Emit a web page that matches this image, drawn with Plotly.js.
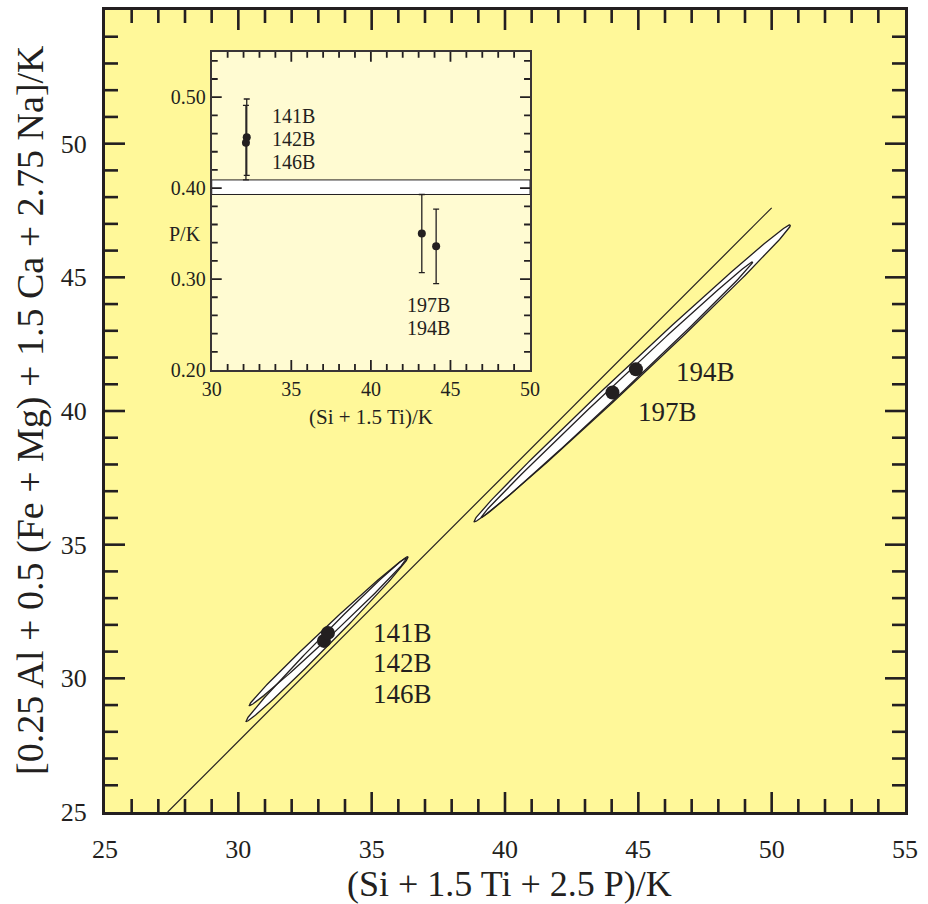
<!DOCTYPE html>
<html>
<head>
<meta charset="utf-8">
<script src="https://cdn.plot.ly/plotly-3.0.1.min.js"></script>
<style>body{margin:0;padding:0;background:#fff;} #plot{width:928px;height:904px;}</style>
</head>
<body>
<div id="plot"></div>
<script>
// ---- main panel data ----
const mainX = [33.21, 33.36, 44.03, 44.91];
const mainY = [31.40, 31.70, 40.69, 41.56];

// reference line
const refLineX = [27.35, 50.0];
const refLineY = [25.0, 47.6];

// confidence ellipses (centre, semi-axes, orientation in degrees)
const ellipseCx    = [44.77, 44.20, 33.33, 33.36];
const ellipseCy    = [41.41, 40.80, 31.47, 31.74];
const ellipseA     = [8.12, 6.98, 4.33, 4.04];
const ellipseB     = [0.30, 0.20, 0.20, 0.18];
const ellipseAngle = [43.1, 43.2, 45.4, 43.1];

// ---- inset data ----
const insetX   = [32.15, 32.20, 43.20, 44.10];
const insetY   = [0.450, 0.456, 0.350, 0.336];
const insetErr = [0.041, 0.042, 0.043, 0.041];
const bandLow = 0.393, bandHigh = 0.409;

const mainRange = [25, 55];
const insetXRange = [30, 50];
const insetYRange = [0.2, 0.55];

const INK = '#231F20';
const FONT = 'Liberation Serif, Times New Roman, serif';

// plot-area sizes in pixels (used to turn tick lengths into axis units)
const MAIN_W = 800, MAIN_H = 802, INSET_W = 318.3, INSET_H = 318.4;

function ellipsePts(i) {
  const xs = [], ys = [];
  const th = ellipseAngle[i] * Math.PI / 180;
  const n = 240;
  for (let k = 0; k <= n; k++) {
    const t = 2 * Math.PI * k / n;
    const u = ellipseA[i] * Math.cos(t), v = ellipseB[i] * Math.sin(t);
    xs.push(ellipseCx[i] + u * Math.cos(th) - v * Math.sin(th));
    ys.push(ellipseCy[i] + u * Math.sin(th) + v * Math.cos(th));
  }
  return {xs, ys};
}

const traces = [];
for (let i = 0; i < ellipseCx.length; i++) {
  const p = ellipsePts(i);
  traces.push({x: p.xs, y: p.ys, mode: 'lines', fill: 'toself', fillcolor: '#ffffff',
    line: {width: 0, color: 'rgba(0,0,0,0)'}, hoverinfo: 'skip', showlegend: false, xaxis: 'x', yaxis: 'y'});
}
for (let i = 0; i < ellipseCx.length; i++) {
  const p = ellipsePts(i);
  traces.push({x: p.xs, y: p.ys, mode: 'lines', line: {width: 1.3, color: INK},
    hoverinfo: 'skip', showlegend: false, xaxis: 'x', yaxis: 'y'});
}
traces.push({x: refLineX, y: refLineY, mode: 'lines', line: {width: 1.2, color: INK},
  showlegend: false, xaxis: 'x', yaxis: 'y'});
traces.push({x: mainX, y: mainY, mode: 'markers', marker: {size: 14, color: INK},
  showlegend: false, xaxis: 'x', yaxis: 'y'});
traces.push({x: insetX, y: insetY, mode: 'markers', marker: {size: 8, color: INK},
  error_y: {type: 'data', array: insetErr, visible: true, color: INK, thickness: 1.3, width: 3},
  showlegend: false, xaxis: 'x2', yaxis: 'y2'});

// ---- inside, mirrored tick marks drawn as line traces on each axis pair ----
function tickTrace(xr, yr, xTicks, yTicks, isMajorX, isMajorY, majPx, minPx, w, W, H, xa, ya) {
  const ux = (xr[1] - xr[0]) / W, uy = (yr[1] - yr[0]) / H;
  const xs = [], ys = [];
  xTicks.forEach(function(v, i) {
    const L = (isMajorX(i) ? majPx : minPx) * uy;
    xs.push(v, v, null, v, v, null);
    ys.push(yr[0], yr[0] + L, null, yr[1], yr[1] - L, null);
  });
  yTicks.forEach(function(v, i) {
    const L = (isMajorY(i) ? majPx : minPx) * ux;
    ys.push(v, v, null, v, v, null);
    xs.push(xr[0], xr[0] + L, null, xr[1], xr[1] - L, null);
  });
  return {x: xs, y: ys, mode: 'lines', line: {color: INK, width: w}, hoverinfo: 'skip',
          showlegend: false, cliponaxis: false, connectgaps: false, xaxis: xa, yaxis: ya};
}
const mainTickVals = [];
for (let v = mainRange[0] + 1; v < mainRange[1]; v++) mainTickVals.push(v);
traces.push(tickTrace(mainRange, mainRange, mainTickVals, mainTickVals,
  i => mainTickVals[i] % 5 === 0, i => mainTickVals[i] % 5 === 0, 20, 13, 2.6, MAIN_W, MAIN_H, 'x', 'y'));
const insetXTickVals = [];
for (let v = insetXRange[0] + 1; v < insetXRange[1]; v++) insetXTickVals.push(v);
const insetYTickVals = [];
for (let k = 1; k <= 17; k++) insetYTickVals.push(Math.round((insetYRange[0] + 0.02 * k) * 1000) / 1000);
traces.push(tickTrace(insetXRange, insetYRange, insetXTickVals, insetYTickVals,
  i => insetXTickVals[i] % 5 === 0, i => (i + 1) % 5 === 0, 10, 6, 1.8, INSET_W, INSET_H, 'x2', 'y2'));

const axisCommon = {
  showgrid: false, zeroline: false, showline: true, linecolor: INK, linewidth: 3,
  mirror: true, ticks: '', tickmode: 'linear', tick0: 25, dtick: 5,
  tickfont: {family: FONT, size: 26, color: INK}
};

const insetCommon = {
  showgrid: false, zeroline: false, showline: true, linecolor: '#3a3536', linewidth: 2,
  mirror: true, ticks: '',
  tickfont: {family: FONT, size: 20, color: INK}
};

const layout = {
  width: 928, height: 904,
  margin: {l: 105, r: 23, t: 10, b: 92},
  paper_bgcolor: '#ffffff', plot_bgcolor: '#FFF899',
  showlegend: false,
  xaxis: Object.assign({}, axisCommon, {range: mainRange, ticklabelstandoff: 12}),
  yaxis: Object.assign({}, axisCommon, {range: mainRange, ticklabelstandoff: 10}),
  xaxis2: Object.assign({}, insetCommon, {
    domain: [0.1334, 0.5313], anchor: 'y2', range: insetXRange,
    tickmode: 'linear', tick0: 30, dtick: 5
  }),
  yaxis2: Object.assign({}, insetCommon, {
    domain: [0.5511, 0.948], anchor: 'x2', range: insetYRange,
    tickmode: 'linear', tick0: 0.2, dtick: 0.1, tickformat: '.2f'
  }),
  shapes: [
    {type: 'rect', xref: 'x2', yref: 'y2', x0: insetXRange[0], x1: insetXRange[1], y0: insetYRange[0], y1: insetYRange[1],
     fillcolor: '#FFFBD2', line: {width: 0}, layer: 'below'},
    {type: 'rect', xref: 'x2', yref: 'y2', x0: insetXRange[0], x1: insetXRange[1], y0: bandLow, y1: bandHigh,
     fillcolor: '#ffffff', line: {width: 1, color: INK}, layer: 'below'}
  ],
  annotations: [
    {xref: 'paper', yref: 'paper', x: 0.506, y: -0.0898, xanchor: 'center', yanchor: 'middle',
     text: '(Si + 1.5 Ti + 2.5 P)/K', showarrow: false, font: {family: FONT, size: 36, color: INK}},
    {xref: 'paper', yref: 'paper', x: -0.094, y: 0.501, xanchor: 'center', yanchor: 'middle', textangle: -90,
     text: '[0.25 Al + 0.5 (Fe + Mg) + 1.5 Ca + 2.75 Na]/K', showarrow: false,
     font: {family: FONT, size: 38, color: INK}},
    {xref: 'paper', yref: 'paper', x: 0.3325, y: 0.4925, xanchor: 'center', yanchor: 'middle',
     text: '(Si + 1.5 Ti)/K', showarrow: false, font: {family: FONT, size: 21, color: INK}},
    {xref: 'paper', yref: 'y2', x: 0.1225, y: 0.350, xanchor: 'right', yanchor: 'middle', text: 'P/K', showarrow: false,
     font: {family: FONT, size: 20, color: INK}},
    {xref: 'x', yref: 'y', x: 47.5, y: 41.46, xanchor: 'center', yanchor: 'middle', text: '194B', showarrow: false, font: {family: FONT, size: 27, color: INK}},
    {xref: 'x', yref: 'y', x: 46.11, y: 39.96, xanchor: 'center', yanchor: 'middle', text: '197B', showarrow: false, font: {family: FONT, size: 27, color: INK}},
    {xref: 'x', yref: 'y', x: 36.14, y: 31.70, xanchor: 'center', yanchor: 'middle', text: '141B', showarrow: false, font: {family: FONT, size: 27, color: INK}},
    {xref: 'x', yref: 'y', x: 36.14, y: 30.56, xanchor: 'center', yanchor: 'middle', text: '142B', showarrow: false, font: {family: FONT, size: 27, color: INK}},
    {xref: 'x', yref: 'y', x: 36.14, y: 29.42, xanchor: 'center', yanchor: 'middle', text: '146B', showarrow: false, font: {family: FONT, size: 27, color: INK}},
    {xref: 'x2', yref: 'y2', x: 35.11, y: 0.4796, xanchor: 'center', yanchor: 'middle', text: '141B', showarrow: false, font: {family: FONT, size: 20, color: INK}},
    {xref: 'x2', yref: 'y2', x: 35.11, y: 0.4544, xanchor: 'center', yanchor: 'middle', text: '142B', showarrow: false, font: {family: FONT, size: 20, color: INK}},
    {xref: 'x2', yref: 'y2', x: 35.11, y: 0.4292, xanchor: 'center', yanchor: 'middle', text: '146B', showarrow: false, font: {family: FONT, size: 20, color: INK}},
    {xref: 'x2', yref: 'y2', x: 43.6, y: 0.2713, xanchor: 'center', yanchor: 'middle', text: '197B', showarrow: false, font: {family: FONT, size: 20, color: INK}},
    {xref: 'x2', yref: 'y2', x: 43.6, y: 0.2461, xanchor: 'center', yanchor: 'middle', text: '194B', showarrow: false, font: {family: FONT, size: 20, color: INK}}
  ]
};

Plotly.newPlot('plot', traces, layout, {staticPlot: true, displayModeBar: false});
</script>
</body>
</html>
